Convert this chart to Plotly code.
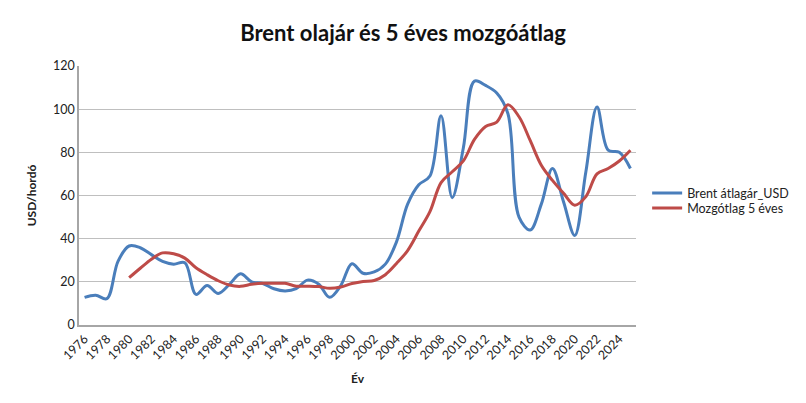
import plotly.graph_objects as go

years = list(range(1976, 2026))
brent = [12.8, 13.8, 12.2, 29.5, 36.6, 35.8, 32.6, 29.5, 28.2, 28.8,
         14.2, 18.3, 14.6, 18.8, 23.7, 20.0, 19.2, 16.8, 15.8, 16.8,
         20.8, 19.0, 12.8, 18.3, 28.4, 24.0, 24.6, 28.2, 38.5, 56.0,
         65.0, 69.0, 97.0, 59.0, 82.0, 113.0, 111.0, 107.5, 98.0, 50.0,
         44.0, 56.0, 72.5, 57.0, 41.5, 71.0, 101.0, 81.0, 80.0, 72.5]
ma_years = list(range(1980, 2026))
moving_avg = [21.9, 26.3, 30.5, 33.4, 33.0, 31.0, 26.5, 23.3, 20.5, 18.5,
              17.9, 18.9, 19.3, 19.3, 19.3, 18.0, 18.0, 17.8, 17.0, 17.6,
              19.2, 20.2, 20.6, 23.3, 28.5, 34.5, 43.5, 52.5, 66.0, 71.0,
              76.0, 86.0, 92.0, 94.0, 102.0, 96.5, 85.5, 74.0, 67.0, 61.0,
              55.5, 59.5, 70.0, 72.5, 76.0, 81.0]
tick_years = list(range(1976, 2025, 2))

title = "Brent olajár és 5 éves mozgóátlag"
font_family = "Lato, 'Open Sans', sans-serif"

fig = go.Figure()
fig.add_trace(go.Scatter(x=years, y=brent, mode="lines", name="Brent átlagár_USD",
                         legend="legend",
                         line=dict(color="#4a7ebb", width=3, shape="spline", smoothing=1.0)))
fig.add_trace(go.Scatter(x=ma_years, y=moving_avg, mode="lines", name="Mozgótlag 5 éves",
                         legend="legend2",
                         line=dict(color="#be4b48", width=3, shape="spline", smoothing=1.0)))

legend_style = dict(xanchor="left", yanchor="middle", font=dict(size=12.5, color="#222"),
                    bgcolor="rgba(0,0,0,0)", itemwidth=30)

fig.update_layout(
    width=798, height=395,
    margin=dict(l=71, r=165, t=58, b=78),
    paper_bgcolor="white", plot_bgcolor="white",
    font=dict(family=font_family, size=12, color="#222"),
    title=dict(text="<b>" + title + "</b>", x=0.495, xanchor="center", y=0.937, yanchor="middle",
               font=dict(family=font_family, size=22, color="#111")),
    legend=dict(x=1.02, y=0.508, **legend_style),
    legend2=dict(x=1.02, y=0.45, **legend_style),
    showlegend=True,
)
fig.update_xaxes(range=[1975.5, 2025.5], tickmode="array", tickvals=tick_years,
                 ticktext=[str(y) for y in tick_years], tickangle=-45,
                 showgrid=False, showline=True, linecolor="#a6a6a6", linewidth=1.5,
                 ticks="", zeroline=False, tickfont=dict(size=12.5),
                 title=dict(text="<b>Év</b>", font=dict(size=12), standoff=13))
fig.update_yaxes(range=[0, 120], dtick=20, showgrid=True, gridcolor="#bfbfbf", gridwidth=1,
                 showline=True, linecolor="#a6a6a6", linewidth=1.5, zeroline=False,
                 ticks="", tickfont=dict(size=12.5),
                 title=dict(text="<b>USD/hordó</b>", font=dict(size=12), standoff=14))

fig.write_html("out.html")
